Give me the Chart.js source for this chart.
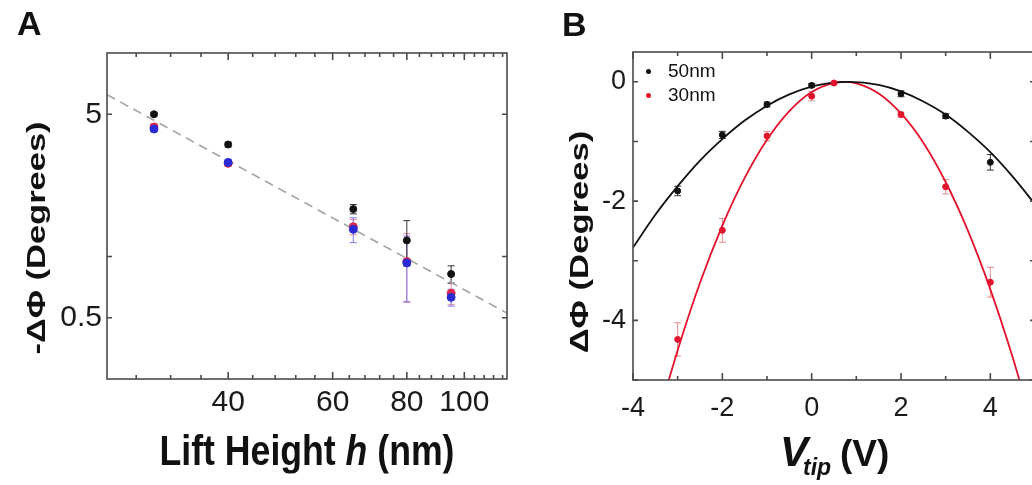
<!DOCTYPE html>
<html>
<head>
<meta charset="utf-8">
<script src="https://cdn.jsdelivr.net/npm/chart.js@4.4.1/dist/chart.umd.min.js"></script>
<style>
    html, body { margin: 0; padding: 0; background: #fff; overflow: hidden; }
    body { width: 1032px; height: 485px; position: relative; font-family: "Liberation Sans", Arial, sans-serif; color: #111; }
    canvas { position: absolute; top: 0; }
    .txt { position: absolute; line-height: 1; white-space: nowrap; font-weight: bold; }
    .dot { position: absolute; width: 5px; height: 5px; border-radius: 50%; }
</style>
</head>
<body>
<canvas id="graficoA" width="520" height="485" style="left:0"></canvas>
<canvas id="graficoB" width="520" height="485" style="left:520px"></canvas>

<div class="txt" style="left:17px; top:6px; font-size:34px;">A</div>
<div class="txt" style="left:562px; top:7px; font-size:34px;">B</div>

<div class="txt fit" id="tituloXA" data-w="295" data-cx="307" data-cy="450" style="font-size:43px;">Lift Height <i>h</i> (nm)</div>
<div class="txt fit rot" id="tituloYA" data-w="233" data-cx="36" data-cy="238" style="font-size:25px;">-ΔΦ (Degrees)</div>
<div class="txt fit rot" id="tituloYB" data-w="223" data-cx="579" data-cy="242" style="font-size:25px;">ΔΦ (Degrees)</div>

<div class="txt" style="left:780px; top:431px; font-size:42px; font-style:italic;">V</div>
<div class="txt" style="left:803px; top:456px; font-size:23px; font-style:italic;">tip</div>
<div class="txt" style="left:840px; top:435px; font-size:37px;">(V)</div>

<div class="dot" style="left:646px; top:69px; background:#111;"></div>
<div class="txt" id="legenda50" style="left:668px; top:61px; font-size:19px; font-weight:normal;"></div>
<div class="dot" style="left:646px; top:93px; background:#e3122d;"></div>
<div class="txt" id="legenda30" style="left:668px; top:85px; font-size:19px; font-weight:normal;"></div>

<script>
// ---- Painel A: -dPhi vs altura (log-log) ----
const alturas = [30, 40, 65, 80, 95];
const pretoA = [5.0, 3.55, 1.71, 1.2, 0.82];
const pretoErrA = [0.1, 0.1, 0.09, 0.3, 0.08];
const vermelhoA = [4.33, 2.87, 1.40, 0.945, 0.66];
const vermelhoErrA = [0.15, 0.1, 0.12, 0.35, 0.08];
const azulA = [4.23, 2.9, 1.36, 0.93, 0.63];
const azulErrA = [0.12, 0.1, 0.19, 0.33, 0.06];
const ajusteXA = [25, 118];
const ajusteYA = [6.24, 0.527];
const rotulosXA = [40, 60, 80, 100];
const marcasXA = [28, 32, 36, 40, 44, 48, 52, 56, 60, 64, 68, 72, 76, 80, 84, 88, 92, 96, 100, 104, 108, 112, 116];
const rotulosYA = [0.5, 5];
const marcasYA = [0.5, 1, 5];

// ---- Painel B: dPhi vs Vtip ----
const tensaoPreto = [-3, -2, -1, 0, 2, 3, 4];
const pretoB = [-1.83, -0.89, -0.38, -0.06, -0.20, -0.575, -1.35];
const pretoErrB = [0.08, 0.06, 0.04, 0.03, 0.05, 0.04, 0.13];
const tensaoVermelho = [-3, -2, -1, 0, 0.5, 2, 3, 4];
const vermelhoB = [-4.32, -2.49, -0.91, -0.24, -0.02, -0.55, -1.76, -3.36];
const vermelhoErrB = [0.28, 0.2, 0.08, 0.08, 0.02, 0.04, 0.12, 0.25];
const curvaPretoX = [-4, -3.5, -3, -2.5, -2, -1.5, -1, -0.5, 0, 0.5, 0.84, 1.5, 2, 2.5, 3, 3.5, 4, 4.5, 5];
const curvaPretoY = [-2.78, -2.23, -1.75, -1.32, -0.96, -0.65, -0.40, -0.21, -0.08, -0.014, 0, -0.05, -0.16, -0.33, -0.55, -0.84, -1.18, -1.59, -2.05];
const curvaVermX = [-3.3, -3, -2.5, -2, -1.5, -1, -0.5, 0, 0.5, 0.73, 1, 1.5, 2, 2.5, 3, 3.5, 4, 4.5, 4.75];
const curvaVermY = [-5.26, -4.5, -3.37, -2.41, -1.61, -0.97, -0.49, -0.17, -0.016, 0, -0.025, -0.195, -0.53, -1.02, -1.68, -2.50, -3.48, -4.62, -5.26];
const rotulosXB = [-4, -2, 0, 2, 4];
const marcasXB = [-4, -3, -2, -1, 0, 1, 2, 3, 4, 5];
const rotulosYB = [-4, -2, 0];
const marcasYB = [-5, -4, -3, -2, -1, 0];
const nomesB = ['50nm', '30nm'];

function pares(xs, ys) {
    return xs.map((x, i) => ({ x: x, y: ys[i] }));
}

// barras de erro desenhadas pelas escalas do grafico
// (ordem inversa: o primeiro dataset fica por cima, como os pontos)
const barrasErro = {
    id: 'barrasErro',
    beforeDatasetsDraw(chart) {
        const ctx = chart.ctx;
        const sx = chart.scales.x, sy = chart.scales.y;
        chart.data.datasets.slice().reverse().forEach((ds) => {
            if (!ds.erros) return;
            ctx.save();
            ctx.strokeStyle = ds.corErro;
            ctx.lineWidth = 1;
            ds.data.forEach((p, j) => {
                const e = ds.erros[j];
                const x = sx.getPixelForValue(p.x);
                const y1 = sy.getPixelForValue(p.y + e);
                const y2 = sy.getPixelForValue(p.y - e);
                ctx.beginPath();
                ctx.moveTo(x, y1); ctx.lineTo(x, y2);
                ctx.moveTo(x - 3.5, y1); ctx.lineTo(x + 3.5, y1);
                ctx.moveTo(x - 3.5, y2); ctx.lineTo(x + 3.5, y2);
                ctx.stroke();
            });
            ctx.restore();
        });
    }
};

// moldura com marcas para dentro
const moldura = {
    id: 'moldura',
    afterDatasetsDraw(chart, args, opts) {
        const ctx = chart.ctx;
        const a = chart.chartArea;
        const sx = chart.scales.x, sy = chart.scales.y;
        ctx.save();
        ctx.strokeStyle = '#4a4a4a';
        ctx.lineWidth = 1.6;
        ctx.beginPath();
        opts.marcasX.forEach((v) => {
            const px = sx.getPixelForValue(v);
            const len = opts.maioresX.includes(v) ? 7 : 4;
            ctx.moveTo(px, a.bottom); ctx.lineTo(px, a.bottom - len);
            ctx.moveTo(px, a.top); ctx.lineTo(px, a.top + len);
        });
        opts.marcasY.forEach((v) => {
            const py = sy.getPixelForValue(v);
            ctx.moveTo(a.left, py); ctx.lineTo(a.left + 5, py);
            ctx.moveTo(a.right, py); ctx.lineTo(a.right - 5, py);
        });
        ctx.stroke();
        ctx.strokeRect(a.left, a.top, a.right - a.left, a.bottom - a.top);
        ctx.restore();
    }
};

const fonteTicks = (size) => ({ family: '"Liberation Sans", Arial, sans-serif', size: size });
const semGrade = { display: false, drawTicks: false };

function desenharGraficoA() {
    const ctx = document.getElementById('graficoA').getContext('2d');
    new Chart(ctx, {
        type: 'scatter',
        data: {
            datasets: [
                {
                    data: pares(alturas, pretoA), erros: pretoErrA, corErro: '#333',
                    backgroundColor: '#111', borderColor: '#111', pointRadius: 3.5
                },
                {
                    data: pares(alturas, azulA), erros: azulErrA, corErro: '#7d7df0',
                    backgroundColor: '#2b2bd6', borderColor: '#2b2bd6', pointRadius: 4
                },
                {
                    data: pares(alturas, vermelhoA), erros: vermelhoErrA, corErro: '#ef8a9a',
                    backgroundColor: '#e0284a', borderColor: '#e0284a', pointRadius: 4
                },
                {
                    data: pares(ajusteXA, ajusteYA), showLine: true, pointRadius: 0,
                    borderColor: '#a3a3a3', borderWidth: 1.6, borderDash: [9, 6]
                }
            ]
        },
        options: {
            responsive: false,
            animation: false,
            devicePixelRatio: 1,
            layout: { padding: { top: 53, right: 13, left: 0, bottom: 0 } },
            plugins: {
                legend: { display: false },
                tooltip: { enabled: false },
                moldura: { marcasX: marcasXA, maioresX: rotulosXA, marcasY: marcasYA }
            },
            scales: {
                x: {
                    type: 'logarithmic', min: 25, max: 118,
                    grid: semGrade, border: { display: false },
                    afterBuildTicks: (s) => { s.ticks = rotulosXA.map(v => ({ value: v })); },
                    afterFit: (s) => { s.height = 106; },
                    ticks: { color: '#1a1a1a', font: fonteTicks(30), padding: 6, maxRotation: 0, callback: (v) => String(v) }
                },
                y: {
                    type: 'logarithmic', min: 0.25, max: 10,
                    grid: semGrade, border: { display: false },
                    afterBuildTicks: (s) => { s.ticks = rotulosYA.map(v => ({ value: v })); },
                    afterFit: (s) => { s.width = 107; },
                    ticks: { color: '#1a1a1a', font: fonteTicks(30), padding: 5, callback: (v) => String(v) }
                }
            }
        },
        plugins: [barrasErro, moldura]
    });
}

function desenharGraficoB() {
    const ctx = document.getElementById('graficoB').getContext('2d');
    new Chart(ctx, {
        type: 'scatter',
        data: {
            datasets: [
                {
                    label: nomesB[0], data: pares(tensaoPreto, pretoB), erros: pretoErrB, corErro: '#333',
                    backgroundColor: '#111', borderColor: '#111', pointRadius: 3
                },
                {
                    label: nomesB[1], data: pares(tensaoVermelho, vermelhoB), erros: vermelhoErrB, corErro: '#e88a8a',
                    backgroundColor: '#e3122d', borderColor: '#e3122d', pointRadius: 3
                },
                {
                    data: pares(curvaPretoX, curvaPretoY), showLine: true, pointRadius: 0,
                    borderColor: '#111', borderWidth: 1.8, cubicInterpolationMode: 'monotone'
                },
                {
                    data: pares(curvaVermX, curvaVermY), showLine: true, pointRadius: 0,
                    borderColor: '#e3122d', borderWidth: 1.8, cubicInterpolationMode: 'monotone'
                }
            ]
        },
        options: {
            responsive: false,
            animation: false,
            devicePixelRatio: 1,
            layout: { padding: { top: 52, right: 5, left: 0, bottom: 0 } },
            plugins: {
                legend: { display: false },
                tooltip: { enabled: false },
                moldura: { marcasX: marcasXB, maioresX: rotulosXB, marcasY: marcasYB }
            },
            scales: {
                x: {
                    type: 'linear', min: -4, max: 5,
                    grid: semGrade, border: { display: false },
                    afterBuildTicks: (s) => { s.ticks = rotulosXB.map(v => ({ value: v })); },
                    afterFit: (s) => { s.height = 105; },
                    ticks: { color: '#1a1a1a', font: fonteTicks(27), padding: 12, maxRotation: 0, callback: (v) => String(v) }
                },
                y: {
                    type: 'linear', min: -5, max: 0.5,
                    grid: semGrade, border: { display: false },
                    afterBuildTicks: (s) => { s.ticks = rotulosYB.map(v => ({ value: v })); },
                    afterFit: (s) => { s.width = 113; },
                    ticks: { color: '#1a1a1a', font: fonteTicks(27), padding: 7, callback: (v) => String(v) }
                }
            }
        },
        plugins: [barrasErro, moldura]
    });
}

// ajusta os titulos ao comprimento do original
function ajustarTitulos() {
    document.querySelectorAll('.fit').forEach((el) => {
        const w = el.offsetWidth;
        const k = Number(el.dataset.w) / w;
        el.style.left = el.dataset.cx + 'px';
        el.style.top = el.dataset.cy + 'px';
        const rot = el.classList.contains('rot') ? ' rotate(-90deg)' : '';
        el.style.transform = 'translate(-50%, -50%)' + rot + ' scaleX(' + k + ')';
    });
    document.getElementById('legenda50').textContent = nomesB[0];
    document.getElementById('legenda30').textContent = nomesB[1];
}

ajustarTitulos();
desenharGraficoA();
desenharGraficoB();
</script>
</body>
</html>
